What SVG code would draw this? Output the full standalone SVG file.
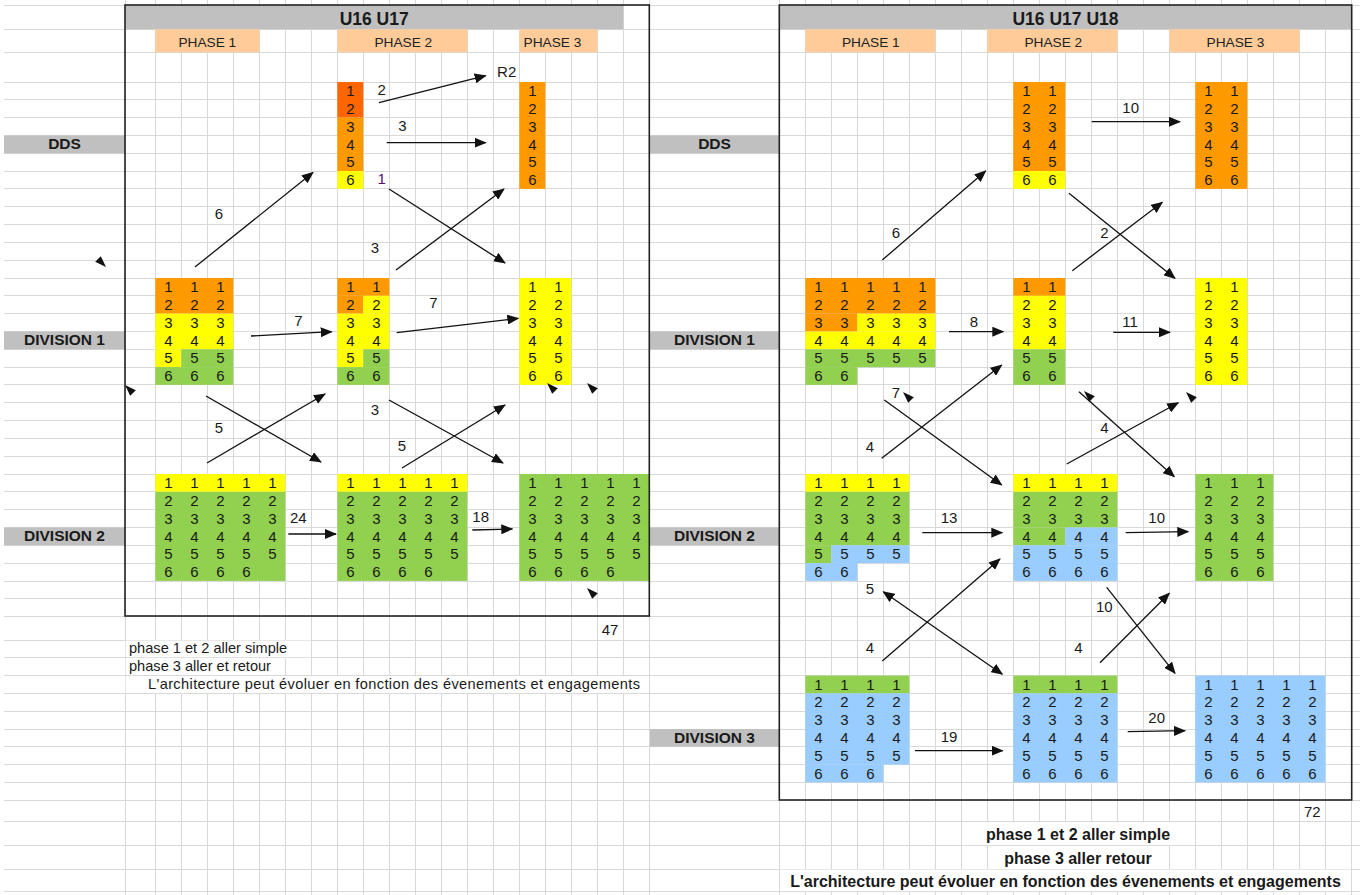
<svg xmlns="http://www.w3.org/2000/svg" width="1360" height="895" viewBox="0 0 1360 895">
<style>
.grid{stroke:#d9d9d9;stroke-width:1;fill:none}
.o{fill:#ff9900}.r{fill:#ff6600}.y{fill:#ffff00}.gr{fill:#92d050}.b{fill:#99ccff}.gy{fill:#c0c0c0}.pe{fill:#ffcc99}.w{fill:#ffffff}
.blk text{font-family:"Liberation Sans",Arial,sans-serif;font-size:15px;fill:#1a1a1a;text-anchor:middle}
.lab{font-family:"Liberation Sans",Arial,sans-serif;font-size:15px;fill:#1a1a1a;text-anchor:middle}
.ph{font-family:"Liberation Sans",Arial,sans-serif;font-size:13.7px;fill:#222;text-anchor:middle}
.ti{font-family:"Liberation Sans",Arial,sans-serif;font-size:17.5px;font-weight:bold;fill:#1a1a1a;text-anchor:middle}
.rl{font-family:"Liberation Sans",Arial,sans-serif;font-size:15.5px;font-weight:bold;fill:#1a1a1a;text-anchor:middle}
.ft{font-family:"Liberation Sans",Arial,sans-serif;font-size:14.6px;fill:#1a1a1a}
.fb{font-family:"Liberation Sans",Arial,sans-serif;font-size:16px;font-weight:bold;fill:#1a1a1a;text-anchor:middle}
.box{fill:none;stroke:#222;stroke-width:1.6}
.c line{stroke:#111;stroke-width:1.3;fill:none;marker-end:url(#ah)}
</style>
<defs>
<marker id="ah" viewBox="0 0 12 10" refX="11" refY="5" markerWidth="12" markerHeight="10" markerUnits="userSpaceOnUse" orient="auto-start-reverse"><path d="M0,0 L12,5 L0,10 z" fill="#111"/></marker>
<path id="sa" d="M-5,-5 L5.8,0.2 L0.2,5.8 Z" fill="#111"/>
</defs>
<rect x="0" y="0" width="1360" height="895" fill="#ffffff"/>
<g id="grid" class="grid" shape-rendering="crispEdges">
<path d="M125,0V895M155.3,0V895M181.3,0V895M207.3,0V895M233.3,0V895M259.3,0V895M285.3,0V895M311.3,0V895M337.3,0V895M363.3,0V895M389.3,0V895M415.3,0V895M441.3,0V895M467.3,0V895M493.3,0V895M519.3,0V895M545.3,0V895M571.3,0V895M597.3,0V895M623.3,0V895M649.3,0V895M779.3,0V895M805.3,0V895M831.3,0V895M857.3,0V895M883.3,0V895M909.3,0V895M935.3,0V895M961.3,0V895M987.3,0V895M1013.3,0V895M1039.3,0V895M1065.3,0V895M1091.3,0V895M1117.3,0V895M1143.3,0V895M1169.3,0V895M1195.3,0V895M1221.3,0V895M1247.3,0V895M1273.3,0V895M1299.3,0V895M1325.3,0V895M1351.3,0V895"/>
<path d="M4,5H1360M4,29.3H1360M4,52.3H1360M4,82H1360M4,99.8H1360M4,117.6H1360M4,135.5H1360M4,153.3H1360M4,171.1H1360M4,188.9H1360M4,206.7H1360M4,224.6H1360M4,242.4H1360M4,260.2H1360M4,278H1360M4,295.8H1360M4,313.7H1360M4,331.5H1360M4,349.3H1360M4,367.1H1360M4,384.9H1360M4,402.8H1360M4,420.6H1360M4,438.4H1360M4,456.2H1360M4,474H1360M4,491.9H1360M4,509.7H1360M4,527.5H1360M4,545.3H1360M4,563.1H1360M4,581H1360M4,598.8H1360M4,616.6H1360M4,640H1360M4,657.8H1360M4,675.6H1360M4,693.4H1360M4,711.2H1360M4,729H1360M4,746.8H1360M4,764.6H1360M4,782.4H1360M4,800.2H1360M4,821.7H1360M4,845.7H1360M4,869H1360M4,891.7H1360"/>
</g>
<g id="overflow-blank">
<rect class="w" x="125.6" y="640.6" width="185" height="16.6"/>
<rect class="w" x="125.6" y="658.4" width="159" height="16.6"/>
<rect class="w" x="125.6" y="676.2" width="523" height="16.6"/>
<rect class="w" x="962" y="822.3" width="232.6" height="22.8"/>
<rect class="w" x="988" y="846.3" width="180.6" height="22.1"/>
<rect class="w" x="780" y="869.6" width="570.6" height="21.5"/>
</g>
<g id="left-headers">
<rect class="gy" x="125" y="5" width="498.3" height="24.3"/>
<text class="ti" x="374.2" y="24.5">U16 U17</text>
<rect class="pe" x="155.3" y="29.3" width="104" height="23"/>
<text class="ph" x="207.3" y="46.8">PHASE 1</text>
<rect class="pe" x="337.3" y="29.3" width="130" height="23"/>
<text class="ph" x="403.3" y="46.8">PHASE 2</text>
<rect class="pe" x="519.3" y="29.3" width="78" height="23"/>
<text class="ph" x="552.5" y="46.8">PHASE 3</text>
</g>
<g id="right-headers">
<rect class="gy" x="779.3" y="5" width="572.4" height="24.3"/>
<text class="ti" x="1065.5" y="24.5">U16 U17 U18</text>
<rect class="pe" x="805.3" y="29.3" width="130" height="23"/>
<text class="ph" x="870.8" y="46.8">PHASE 1</text>
<rect class="pe" x="987.3" y="29.3" width="130" height="23"/>
<text class="ph" x="1053.3" y="46.8">PHASE 2</text>
<rect class="pe" x="1169.3" y="29.3" width="130" height="23"/>
<text class="ph" x="1235.5" y="46.8">PHASE 3</text>
</g>
<g id="row-labels">
<rect class="gy" x="4" y="135.5" width="121" height="17.8"/><text class="rl" x="64.5" y="149">DDS</text>
<rect class="gy" x="4" y="331.5" width="121" height="17.8"/><text class="rl" x="64.5" y="345">DIVISION 1</text>
<rect class="gy" x="4" y="527.5" width="121" height="17.8"/><text class="rl" x="64.5" y="541">DIVISION 2</text>
<rect class="gy" x="650" y="135.5" width="129.3" height="17.8"/><text class="rl" x="714.5" y="149">DDS</text>
<rect class="gy" x="650" y="331.5" width="129.3" height="17.8"/><text class="rl" x="714.5" y="345">DIVISION 1</text>
<rect class="gy" x="650" y="527.5" width="129.3" height="17.8"/><text class="rl" x="714.5" y="541">DIVISION 2</text>
<rect class="gy" x="650" y="729" width="129.3" height="17.8"/><text class="rl" x="714.5" y="742.5">DIVISION 3</text>
</g>
<g id="l-dds-p2" class="blk" transform="translate(337.3,82)">
<rect class="r" x="0" y="0" width="26" height="35.6"/><rect class="o" x="0" y="35.6" width="26" height="53.5"/><rect class="y" x="0" y="89.1" width="26" height="17.8"/>
<text x="13" y="14">1</text><text x="13" y="31.8">2</text><text x="13" y="49.6">3</text><text x="13" y="67.5">4</text><text x="13" y="85.3">5</text><text x="13" y="103.1">6</text>
</g>
<g id="l-dds-p3" class="blk" transform="translate(519.3,82)">
<rect class="o" x="0" y="0" width="26" height="106.9"/>
<text x="13" y="14">1</text><text x="13" y="31.8">2</text><text x="13" y="49.6">3</text><text x="13" y="67.5">4</text><text x="13" y="85.3">5</text><text x="13" y="103.1">6</text>
</g>
<g id="l-d1-p1" class="blk" transform="translate(155.3,278)">
<rect class="o" x="0" y="0" width="78" height="35.6"/><rect class="y" x="0" y="35.6" width="78" height="35.7"/><rect class="y" x="0" y="71.3" width="26" height="17.8"/><rect class="gr" x="26" y="71.3" width="52" height="17.8"/><rect class="gr" x="0" y="89.1" width="78" height="17.8"/>
<text x="13" y="14">1</text><text x="39" y="14">1</text><text x="65" y="14">1</text>
<text x="13" y="31.8">2</text><text x="39" y="31.8">2</text><text x="65" y="31.8">2</text>
<text x="13" y="49.6">3</text><text x="39" y="49.6">3</text><text x="65" y="49.6">3</text>
<text x="13" y="67.5">4</text><text x="39" y="67.5">4</text><text x="65" y="67.5">4</text>
<text x="13" y="85.3">5</text><text x="39" y="85.3">5</text><text x="65" y="85.3">5</text>
<text x="13" y="103.1">6</text><text x="39" y="103.1">6</text><text x="65" y="103.1">6</text>
</g>
<g id="l-d1-p2" class="blk" transform="translate(337.3,278)">
<rect class="o" x="0" y="0" width="52" height="17.8"/><rect class="o" x="0" y="17.8" width="26" height="17.8"/><rect class="y" x="26" y="17.8" width="26" height="17.8"/><rect class="y" x="0" y="35.6" width="52" height="35.7"/><rect class="y" x="0" y="71.3" width="26" height="17.8"/><rect class="gr" x="26" y="71.3" width="26" height="17.8"/><rect class="gr" x="0" y="89.1" width="52" height="17.8"/>
<text x="13" y="14">1</text><text x="39" y="14">1</text>
<text x="13" y="31.8">2</text><text x="39" y="31.8">2</text>
<text x="13" y="49.6">3</text><text x="39" y="49.6">3</text>
<text x="13" y="67.5">4</text><text x="39" y="67.5">4</text>
<text x="13" y="85.3">5</text><text x="39" y="85.3">5</text>
<text x="13" y="103.1">6</text><text x="39" y="103.1">6</text>
</g>
<g id="l-d1-p3" class="blk" transform="translate(519.3,278)">
<rect class="y" x="0" y="0" width="52" height="106.9"/>
<text x="13" y="14">1</text><text x="39" y="14">1</text>
<text x="13" y="31.8">2</text><text x="39" y="31.8">2</text>
<text x="13" y="49.6">3</text><text x="39" y="49.6">3</text>
<text x="13" y="67.5">4</text><text x="39" y="67.5">4</text>
<text x="13" y="85.3">5</text><text x="39" y="85.3">5</text>
<text x="13" y="103.1">6</text><text x="39" y="103.1">6</text>
</g>
<g id="l-d2-p1" class="blk" transform="translate(155.3,474)">
<rect class="y" x="0" y="0" width="130" height="17.8"/><rect class="gr" x="0" y="17.8" width="130" height="89.1"/>
<text x="13" y="14">1</text><text x="39" y="14">1</text><text x="65" y="14">1</text><text x="91" y="14">1</text><text x="117" y="14">1</text>
<text x="13" y="31.8">2</text><text x="39" y="31.8">2</text><text x="65" y="31.8">2</text><text x="91" y="31.8">2</text><text x="117" y="31.8">2</text>
<text x="13" y="49.6">3</text><text x="39" y="49.6">3</text><text x="65" y="49.6">3</text><text x="91" y="49.6">3</text><text x="117" y="49.6">3</text>
<text x="13" y="67.5">4</text><text x="39" y="67.5">4</text><text x="65" y="67.5">4</text><text x="91" y="67.5">4</text><text x="117" y="67.5">4</text>
<text x="13" y="85.3">5</text><text x="39" y="85.3">5</text><text x="65" y="85.3">5</text><text x="91" y="85.3">5</text><text x="117" y="85.3">5</text>
<text x="13" y="103.1">6</text><text x="39" y="103.1">6</text><text x="65" y="103.1">6</text><text x="91" y="103.1">6</text>
</g>
<g id="l-d2-p2" class="blk" transform="translate(337.3,474)">
<rect class="y" x="0" y="0" width="130" height="17.8"/><rect class="gr" x="0" y="17.8" width="130" height="89.1"/>
<text x="13" y="14">1</text><text x="39" y="14">1</text><text x="65" y="14">1</text><text x="91" y="14">1</text><text x="117" y="14">1</text>
<text x="13" y="31.8">2</text><text x="39" y="31.8">2</text><text x="65" y="31.8">2</text><text x="91" y="31.8">2</text><text x="117" y="31.8">2</text>
<text x="13" y="49.6">3</text><text x="39" y="49.6">3</text><text x="65" y="49.6">3</text><text x="91" y="49.6">3</text><text x="117" y="49.6">3</text>
<text x="13" y="67.5">4</text><text x="39" y="67.5">4</text><text x="65" y="67.5">4</text><text x="91" y="67.5">4</text><text x="117" y="67.5">4</text>
<text x="13" y="85.3">5</text><text x="39" y="85.3">5</text><text x="65" y="85.3">5</text><text x="91" y="85.3">5</text><text x="117" y="85.3">5</text>
<text x="13" y="103.1">6</text><text x="39" y="103.1">6</text><text x="65" y="103.1">6</text><text x="91" y="103.1">6</text>
</g>
<g id="l-d2-p3" class="blk" transform="translate(519.3,474)">
<rect class="gr" x="0" y="0" width="130" height="106.9"/>
<text x="13" y="14">1</text><text x="39" y="14">1</text><text x="65" y="14">1</text><text x="91" y="14">1</text><text x="117" y="14">1</text>
<text x="13" y="31.8">2</text><text x="39" y="31.8">2</text><text x="65" y="31.8">2</text><text x="91" y="31.8">2</text><text x="117" y="31.8">2</text>
<text x="13" y="49.6">3</text><text x="39" y="49.6">3</text><text x="65" y="49.6">3</text><text x="91" y="49.6">3</text><text x="117" y="49.6">3</text>
<text x="13" y="67.5">4</text><text x="39" y="67.5">4</text><text x="65" y="67.5">4</text><text x="91" y="67.5">4</text><text x="117" y="67.5">4</text>
<text x="13" y="85.3">5</text><text x="39" y="85.3">5</text><text x="65" y="85.3">5</text><text x="91" y="85.3">5</text><text x="117" y="85.3">5</text>
<text x="13" y="103.1">6</text><text x="39" y="103.1">6</text><text x="65" y="103.1">6</text><text x="91" y="103.1">6</text>
</g>
<g id="r-dds-p2" class="blk" transform="translate(1013.3,82)">
<rect class="o" x="0" y="0" width="52" height="89.1"/><rect class="y" x="0" y="89.1" width="52" height="17.8"/>
<text x="13" y="14">1</text><text x="39" y="14">1</text>
<text x="13" y="31.8">2</text><text x="39" y="31.8">2</text>
<text x="13" y="49.6">3</text><text x="39" y="49.6">3</text>
<text x="13" y="67.5">4</text><text x="39" y="67.5">4</text>
<text x="13" y="85.3">5</text><text x="39" y="85.3">5</text>
<text x="13" y="103.1">6</text><text x="39" y="103.1">6</text>
</g>
<g id="r-dds-p3" class="blk" transform="translate(1195.3,82)">
<rect class="o" x="0" y="0" width="52" height="106.9"/>
<text x="13" y="14">1</text><text x="39" y="14">1</text>
<text x="13" y="31.8">2</text><text x="39" y="31.8">2</text>
<text x="13" y="49.6">3</text><text x="39" y="49.6">3</text>
<text x="13" y="67.5">4</text><text x="39" y="67.5">4</text>
<text x="13" y="85.3">5</text><text x="39" y="85.3">5</text>
<text x="13" y="103.1">6</text><text x="39" y="103.1">6</text>
</g>
<g id="r-d1-p1" class="blk" transform="translate(805.3,278)">
<rect class="o" x="0" y="0" width="130" height="35.6"/><rect class="o" x="0" y="35.6" width="52" height="17.9"/><rect class="y" x="52" y="35.6" width="78" height="17.9"/><rect class="y" x="0" y="53.5" width="130" height="17.8"/><rect class="gr" x="0" y="71.3" width="130" height="17.8"/><rect class="gr" x="0" y="89.1" width="52" height="17.8"/>
<text x="13" y="14">1</text><text x="39" y="14">1</text><text x="65" y="14">1</text><text x="91" y="14">1</text><text x="117" y="14">1</text>
<text x="13" y="31.8">2</text><text x="39" y="31.8">2</text><text x="65" y="31.8">2</text><text x="91" y="31.8">2</text><text x="117" y="31.8">2</text>
<text x="13" y="49.6">3</text><text x="39" y="49.6">3</text><text x="65" y="49.6">3</text><text x="91" y="49.6">3</text><text x="117" y="49.6">3</text>
<text x="13" y="67.5">4</text><text x="39" y="67.5">4</text><text x="65" y="67.5">4</text><text x="91" y="67.5">4</text><text x="117" y="67.5">4</text>
<text x="13" y="85.3">5</text><text x="39" y="85.3">5</text><text x="65" y="85.3">5</text><text x="91" y="85.3">5</text><text x="117" y="85.3">5</text>
<text x="13" y="103.1">6</text><text x="39" y="103.1">6</text>
</g>
<g id="r-d1-p2" class="blk" transform="translate(1013.3,278)">
<rect class="o" x="0" y="0" width="52" height="17.8"/><rect class="y" x="0" y="17.8" width="52" height="53.5"/><rect class="gr" x="0" y="71.3" width="52" height="35.6"/>
<text x="13" y="14">1</text><text x="39" y="14">1</text>
<text x="13" y="31.8">2</text><text x="39" y="31.8">2</text>
<text x="13" y="49.6">3</text><text x="39" y="49.6">3</text>
<text x="13" y="67.5">4</text><text x="39" y="67.5">4</text>
<text x="13" y="85.3">5</text><text x="39" y="85.3">5</text>
<text x="13" y="103.1">6</text><text x="39" y="103.1">6</text>
</g>
<g id="r-d1-p3" class="blk" transform="translate(1195.3,278)">
<rect class="y" x="0" y="0" width="52" height="106.9"/>
<text x="13" y="14">1</text><text x="39" y="14">1</text>
<text x="13" y="31.8">2</text><text x="39" y="31.8">2</text>
<text x="13" y="49.6">3</text><text x="39" y="49.6">3</text>
<text x="13" y="67.5">4</text><text x="39" y="67.5">4</text>
<text x="13" y="85.3">5</text><text x="39" y="85.3">5</text>
<text x="13" y="103.1">6</text><text x="39" y="103.1">6</text>
</g>
<g id="r-d2-p1" class="blk" transform="translate(805.3,474)">
<rect class="y" x="0" y="0" width="104" height="17.8"/><rect class="gr" x="0" y="17.8" width="104" height="53.5"/><rect class="gr" x="0" y="71.3" width="26" height="17.8"/><rect class="b" x="26" y="71.3" width="78" height="17.8"/><rect class="b" x="0" y="89.1" width="52" height="17.8"/>
<text x="13" y="14">1</text><text x="39" y="14">1</text><text x="65" y="14">1</text><text x="91" y="14">1</text>
<text x="13" y="31.8">2</text><text x="39" y="31.8">2</text><text x="65" y="31.8">2</text><text x="91" y="31.8">2</text>
<text x="13" y="49.6">3</text><text x="39" y="49.6">3</text><text x="65" y="49.6">3</text><text x="91" y="49.6">3</text>
<text x="13" y="67.5">4</text><text x="39" y="67.5">4</text><text x="65" y="67.5">4</text><text x="91" y="67.5">4</text>
<text x="13" y="85.3">5</text><text x="39" y="85.3">5</text><text x="65" y="85.3">5</text><text x="91" y="85.3">5</text>
<text x="13" y="103.1">6</text><text x="39" y="103.1">6</text>
</g>
<g id="r-d2-p2" class="blk" transform="translate(1013.3,474)">
<rect class="y" x="0" y="0" width="104" height="17.8"/><rect class="gr" x="0" y="17.8" width="104" height="35.7"/><rect class="gr" x="0" y="53.5" width="52" height="17.8"/><rect class="b" x="52" y="53.5" width="52" height="17.8"/><rect class="b" x="0" y="71.3" width="104" height="35.6"/>
<text x="13" y="14">1</text><text x="39" y="14">1</text><text x="65" y="14">1</text><text x="91" y="14">1</text>
<text x="13" y="31.8">2</text><text x="39" y="31.8">2</text><text x="65" y="31.8">2</text><text x="91" y="31.8">2</text>
<text x="13" y="49.6">3</text><text x="39" y="49.6">3</text><text x="65" y="49.6">3</text><text x="91" y="49.6">3</text>
<text x="13" y="67.5">4</text><text x="39" y="67.5">4</text><text x="65" y="67.5">4</text><text x="91" y="67.5">4</text>
<text x="13" y="85.3">5</text><text x="39" y="85.3">5</text><text x="65" y="85.3">5</text><text x="91" y="85.3">5</text>
<text x="13" y="103.1">6</text><text x="39" y="103.1">6</text><text x="65" y="103.1">6</text><text x="91" y="103.1">6</text>
</g>
<g id="r-d2-p3" class="blk" transform="translate(1195.3,474)">
<rect class="gr" x="0" y="0" width="78" height="106.9"/>
<text x="13" y="14">1</text><text x="39" y="14">1</text><text x="65" y="14">1</text>
<text x="13" y="31.8">2</text><text x="39" y="31.8">2</text><text x="65" y="31.8">2</text>
<text x="13" y="49.6">3</text><text x="39" y="49.6">3</text><text x="65" y="49.6">3</text>
<text x="13" y="67.5">4</text><text x="39" y="67.5">4</text><text x="65" y="67.5">4</text>
<text x="13" y="85.3">5</text><text x="39" y="85.3">5</text><text x="65" y="85.3">5</text>
<text x="13" y="103.1">6</text><text x="39" y="103.1">6</text><text x="65" y="103.1">6</text>
</g>
<g id="r-d3-p1" class="blk" transform="translate(805.3,675.6)">
<rect class="gr" x="0" y="0" width="104" height="17.8"/><rect class="b" x="0" y="17.8" width="104" height="71.2"/><rect class="b" x="0" y="89" width="78" height="17.8"/>
<text x="13" y="14">1</text><text x="39" y="14">1</text><text x="65" y="14">1</text><text x="91" y="14">1</text>
<text x="13" y="31.8">2</text><text x="39" y="31.8">2</text><text x="65" y="31.8">2</text><text x="91" y="31.8">2</text>
<text x="13" y="49.6">3</text><text x="39" y="49.6">3</text><text x="65" y="49.6">3</text><text x="91" y="49.6">3</text>
<text x="13" y="67.4">4</text><text x="39" y="67.4">4</text><text x="65" y="67.4">4</text><text x="91" y="67.4">4</text>
<text x="13" y="85.2">5</text><text x="39" y="85.2">5</text><text x="65" y="85.2">5</text><text x="91" y="85.2">5</text>
<text x="13" y="103">6</text><text x="39" y="103">6</text><text x="65" y="103">6</text>
</g>
<g id="r-d3-p2" class="blk" transform="translate(1013.3,675.6)">
<rect class="gr" x="0" y="0" width="104" height="17.8"/><rect class="b" x="0" y="17.8" width="104" height="89"/>
<text x="13" y="14">1</text><text x="39" y="14">1</text><text x="65" y="14">1</text><text x="91" y="14">1</text>
<text x="13" y="31.8">2</text><text x="39" y="31.8">2</text><text x="65" y="31.8">2</text><text x="91" y="31.8">2</text>
<text x="13" y="49.6">3</text><text x="39" y="49.6">3</text><text x="65" y="49.6">3</text><text x="91" y="49.6">3</text>
<text x="13" y="67.4">4</text><text x="39" y="67.4">4</text><text x="65" y="67.4">4</text><text x="91" y="67.4">4</text>
<text x="13" y="85.2">5</text><text x="39" y="85.2">5</text><text x="65" y="85.2">5</text><text x="91" y="85.2">5</text>
<text x="13" y="103">6</text><text x="39" y="103">6</text><text x="65" y="103">6</text><text x="91" y="103">6</text>
</g>
<g id="r-d3-p3" class="blk" transform="translate(1195.3,675.6)">
<rect class="b" x="0" y="0" width="130" height="106.8"/>
<text x="13" y="14">1</text><text x="39" y="14">1</text><text x="65" y="14">1</text><text x="91" y="14">1</text><text x="117" y="14">1</text>
<text x="13" y="31.8">2</text><text x="39" y="31.8">2</text><text x="65" y="31.8">2</text><text x="91" y="31.8">2</text><text x="117" y="31.8">2</text>
<text x="13" y="49.6">3</text><text x="39" y="49.6">3</text><text x="65" y="49.6">3</text><text x="91" y="49.6">3</text><text x="117" y="49.6">3</text>
<text x="13" y="67.4">4</text><text x="39" y="67.4">4</text><text x="65" y="67.4">4</text><text x="91" y="67.4">4</text><text x="117" y="67.4">4</text>
<text x="13" y="85.2">5</text><text x="39" y="85.2">5</text><text x="65" y="85.2">5</text><text x="91" y="85.2">5</text><text x="117" y="85.2">5</text>
<text x="13" y="103">6</text><text x="39" y="103">6</text><text x="65" y="103">6</text><text x="91" y="103">6</text><text x="117" y="103">6</text>
</g>
<g id="frames">
<rect class="box" x="125" y="5" width="524.3" height="611"/>
<rect class="box" x="779.3" y="5" width="572.4" height="795"/>
</g>
<g id="connectors" class="c">
<line x1="379" y1="102.7" x2="485.7" y2="75.7"/>
<line x1="386.7" y1="142.7" x2="485.7" y2="142.7"/>
<line x1="195" y1="267" x2="313" y2="172.5"/>
<line x1="389" y1="189" x2="505" y2="263"/>
<line x1="396" y1="270" x2="504" y2="189"/>
<line x1="251" y1="336" x2="331.7" y2="331.7"/>
<line x1="396.7" y1="332.7" x2="518.3" y2="318.3"/>
<line x1="206" y1="396" x2="321" y2="462"/>
<line x1="207" y1="463" x2="325" y2="394"/>
<line x1="389" y1="400" x2="503" y2="463"/>
<line x1="402" y1="468" x2="505" y2="405"/>
<line x1="288.3" y1="534" x2="336" y2="534"/>
<line x1="472.3" y1="530" x2="512.3" y2="529"/>
<line x1="882.3" y1="260" x2="985.7" y2="171"/>
<line x1="1091.7" y1="121.7" x2="1180" y2="121.7"/>
<line x1="1069" y1="193.3" x2="1175" y2="278.3"/>
<line x1="1072.3" y1="270.7" x2="1162.3" y2="202.3"/>
<line x1="949" y1="331.7" x2="1003.3" y2="331.7"/>
<line x1="1113.3" y1="332.3" x2="1170" y2="332.3"/>
<line x1="884.3" y1="400" x2="1001.7" y2="485"/>
<line x1="881.7" y1="458.3" x2="1001.7" y2="365"/>
<line x1="1079" y1="391.7" x2="1174.3" y2="476.7"/>
<line x1="1066.7" y1="464" x2="1178.3" y2="402.7"/>
<line x1="922.3" y1="532.7" x2="1002.3" y2="532.7"/>
<line x1="1125.7" y1="532.7" x2="1188.3" y2="531.7"/>
<line x1="883.3" y1="591.7" x2="1002.3" y2="674.3" marker-start="url(#ah)"/>
<line x1="882.3" y1="661" x2="1000" y2="559"/>
<line x1="1106.7" y1="587.3" x2="1175" y2="673.3"/>
<line x1="1100" y1="662.7" x2="1169.3" y2="593.3"/>
<line x1="915" y1="750.7" x2="1002.7" y2="750.7"/>
<line x1="1127.7" y1="731.7" x2="1185" y2="730.7"/>
<use href="#sa" transform="translate(101,262) rotate(180)"/>
<use href="#sa" x="130" y="390"/>
<use href="#sa" x="552" y="388"/>
<use href="#sa" x="592" y="388"/>
<use href="#sa" x="592" y="593"/>
<use href="#sa" x="908" y="397"/>
<use href="#sa" x="1089" y="396"/>
<use href="#sa" x="1191" y="397"/>
</g>
<g id="connector-labels">
<text class="lab" x="506.7" y="77.3">R2</text>
<text class="lab" x="381.7" y="95">2</text>
<text class="lab" x="402.3" y="131">3</text>
<text class="lab" x="381.7" y="184.3" style="fill:#5b1070">1</text>
<text class="lab" x="219" y="219">6</text>
<text class="lab" x="375" y="253">3</text>
<text class="lab" x="298.3" y="326">7</text>
<text class="lab" x="433.3" y="308.3">7</text>
<text class="lab" x="219" y="433">5</text>
<text class="lab" x="375" y="415">3</text>
<text class="lab" x="402" y="451">5</text>
<text class="lab" x="298.3" y="523.3">24</text>
<text class="lab" x="480.7" y="522.3">18</text>
<text class="lab" x="610" y="635">47</text>
<text class="lab" x="1130.7" y="113.3">10</text>
<text class="lab" x="896" y="237.7">6</text>
<text class="lab" x="1104.3" y="237.7">2</text>
<text class="lab" x="974" y="326.7">8</text>
<text class="lab" x="1130" y="326.7">11</text>
<text class="lab" x="896" y="398.3">7</text>
<text class="lab" x="870" y="451.7">4</text>
<text class="lab" x="1104.3" y="433.3">4</text>
<text class="lab" x="949" y="522.7">13</text>
<text class="lab" x="1156.7" y="522.7">10</text>
<text class="lab" x="870" y="594.3">5</text>
<text class="lab" x="870" y="653.3">4</text>
<text class="lab" x="1104.3" y="611.7">10</text>
<text class="lab" x="1078.3" y="653.3">4</text>
<text class="lab" x="949" y="741.7">19</text>
<text class="lab" x="1156.7" y="723.3">20</text>
<text class="lab" x="1312.3" y="816.7">72</text>
</g>
<g id="notes">
<text class="ft" x="129" y="653">phase 1 et 2 aller simple</text>
<text class="ft" x="129" y="671">phase 3 aller et retour</text>
<text class="ft" x="148" y="689" textLength="492" lengthAdjust="spacing">L'architecture peut évoluer en fonction des évenements et engagements</text>
<text class="fb" x="1078" y="840">phase 1 et 2 aller simple</text>
<text class="fb" x="1078" y="864">phase 3 aller retour</text>
<text class="fb" x="1065.5" y="887">L'architecture peut évoluer en fonction des évenements et engagements</text>
</g>
</svg>
